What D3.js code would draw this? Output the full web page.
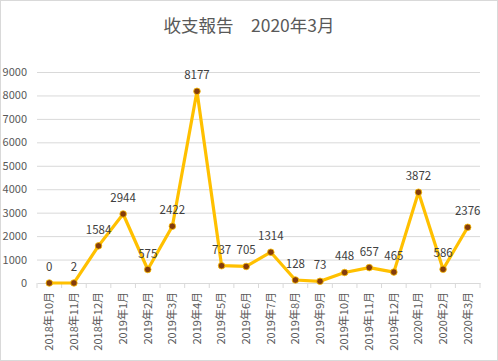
<!DOCTYPE html>
<html><head><meta charset="utf-8">
<script src="https://cdn.jsdelivr.net/npm/d3@7"></script>
<style>body{margin:0;background:#fff}svg{display:block}text{font-family:"Noto Sans CJK JP","Noto Sans CJK SC","DejaVu Sans",sans-serif}</style>
</head><body><svg id="c" width="498" height="361"></svg>
<script>
const categories = ["2018年10月","2018年11月","2018年12月","2019年1月","2019年2月","2019年3月","2019年4月","2019年5月","2019年6月","2019年7月","2019年8月","2019年9月","2019年10月","2019年11月","2019年12月","2020年1月","2020年2月","2020年3月"];
const values = [0,2,1584,2944,575,2422,8177,737,705,1314,128,73,448,657,465,3872,586,2376];
const yTicks = [0,1000,2000,3000,4000,5000,6000,7000,8000,9000];
const title = "收支報告　2020年3月";

const svg = d3.select("#c");
const W = 498, H = 361;
const m = {l:37, r:18, t:72, b:78};
svg.append("rect").attr("x",0.5).attr("y",0.5).attr("width",W-1).attr("height",H-1).attr("fill","#fff").attr("stroke","#d9d9d9");

const x = d3.scaleBand().domain(categories).range([m.l, W-m.r]);
const y = d3.scaleLinear().domain([0,9000]).range([H-m.b, m.t]);

svg.append("text").attr("x",W/2).attr("y",32).attr("text-anchor","middle").attr("font-size",17.5).attr("fill","#595959").text(title);

// grid
const gy = svg.append("g").attr("transform",`translate(${m.l},0)`)
  .call(d3.axisLeft(y).tickValues(yTicks).tickSize(-(W-m.l-m.r)).tickPadding(10).tickFormat(d3.format("d")));
gy.select(".domain").remove();
gy.selectAll(".tick line").attr("stroke","#d9d9d9");
gy.selectAll(".tick text").attr("fill","#595959").attr("font-size",11).attr("font-family","'Liberation Sans','DejaVu Sans',sans-serif");
gy.selectAll(".tick").filter(d=>d===0).select("line").remove();

// x axis
const gx = svg.append("g").attr("transform",`translate(0,${H-m.b})`)
  .call(d3.axisBottom(x).tickSize(0).tickPadding(0));
gx.select(".domain").attr("stroke","#d9d9d9");
gx.selectAll(".tick text").attr("fill","#595959").attr("font-size",11)
  .attr("transform","rotate(-90)").attr("text-anchor","end").attr("dx","-9").attr("dy","0.35em").attr("x",0).attr("y",0);
// boundary ticks
const bounds = categories.map(c=>x(c)).concat([x(categories[categories.length-1])+x.bandwidth()]);
svg.append("g").selectAll("line").data(bounds).join("line")
  .attr("x1",d=>d).attr("x2",d=>d).attr("y1",H-m.b).attr("y2",H-m.b+5).attr("stroke","#d9d9d9");

const cx = d=>x(d)+x.bandwidth()/2;
svg.append("path").datum(values).attr("fill","none").attr("stroke","#FFC000").attr("stroke-width",3.2).attr("stroke-linejoin","round")
  .attr("d", d3.line().x((d,i)=>cx(categories[i])).y(d=>y(d)));
svg.append("g").selectAll("circle").data(values).join("circle")
  .attr("cx",(d,i)=>cx(categories[i])).attr("cy",d=>y(d)).attr("r",3.3)
  .attr("fill","#843C0C").attr("stroke","#FFC000").attr("stroke-width",0.8);
svg.append("g").selectAll("text").data(values).join("text")
  .attr("x",(d,i)=>cx(categories[i])).attr("y",d=>y(d)-12).attr("text-anchor","middle")
  .attr("font-size",11.5).attr("fill","#404040").attr("font-family","'Liberation Sans','DejaVu Sans',sans-serif").text(d=>d);
</script></body></html>
